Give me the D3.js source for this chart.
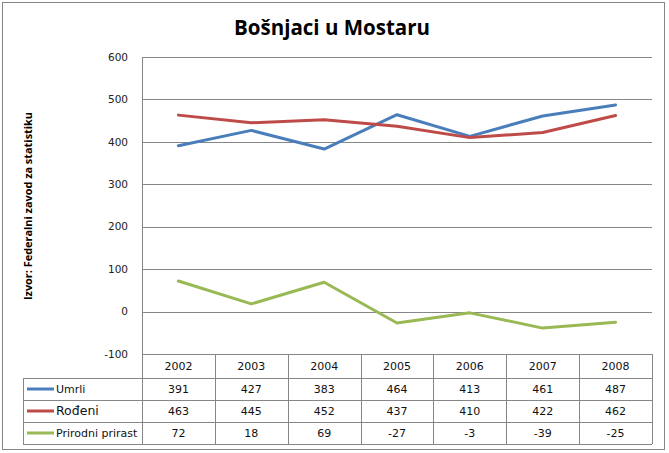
<!DOCTYPE html>
<html><head><meta charset="utf-8">
<script src="https://cdn.jsdelivr.net/npm/d3@7"></script>
<style>body{margin:0;background:#fff}svg{display:block}</style>
</head><body>
<script>
const years = ["2002","2003","2004","2005","2006","2007","2008"];
const umrli = [391,427,383,464,413,461,487];
const rodjeni = [463,445,452,437,410,422,462];
const prirast = [72,18,69,-27,-3,-39,-25];
const yTicks = [-100,0,100,200,300,400,500,600];
const seriesNames = ["Umrli","Rođeni","Prirodni prirast"];
const seriesColors = ["#4a7ebb","#be4b48","#98b954"];
const title = "Bošnjaci u Mostaru";
const yTitle = "Izvor: Federalni zavod za statistiku";

const W=669,H=453;
const svg=d3.select("body").append("svg").attr("width",W).attr("height",H);
const grey="#868686";
svg.append("rect").attr("x",2.5).attr("y",2.5).attr("width",662).attr("height",447).attr("fill","#fff").attr("stroke",grey);

const x=d3.scaleBand().domain(years).range([142,652]);
const y=d3.scaleLinear().domain([-100,600]).range([354,57]);
const font="DejaVu Sans, Verdana, sans-serif";

svg.append("text").attr("x",332).attr("y",35).attr("text-anchor","middle")
 .attr("font-family","Open Sans, sans-serif").attr("font-weight","bold").attr("font-size",20.5).text(title);

// gridlines
svg.append("g").selectAll("line").data(yTicks).join("line")
 .attr("x1",142).attr("x2",652).attr("y1",d=>Math.round(y(d))+0.5).attr("y2",d=>Math.round(y(d))+0.5)
 .attr("stroke",grey);
// y tick labels
svg.append("g").selectAll("text").data(yTicks).join("text")
 .attr("x",128).attr("y",d=>y(d)).attr("dy","0.35em").attr("text-anchor","end")
 .attr("font-family",font).attr("font-size",10.5).attr("fill","#222").text(d=>d);
// y title
svg.append("text").attr("transform","translate(32,206) rotate(-90)").attr("text-anchor","middle")
 .attr("font-family","Open Sans, sans-serif").attr("font-weight","bold").attr("font-size",10)
 .attr("textLength",188).attr("lengthAdjust","spacingAndGlyphs").text(yTitle);

// left axis line
svg.append("line").attr("x1",142.5).attr("x2",142.5).attr("y1",57).attr("y2",444).attr("stroke",grey);

// table
const rowTops=[354,378,400,422,444];
const tg=svg.append("g");
rowTops.slice(1).forEach(r=>{
 tg.append("line").attr("x1",23).attr("x2",652).attr("y1",r+0.5).attr("y2",r+0.5).attr("stroke",grey);
});
tg.append("line").attr("x1",23.5).attr("x2",23.5).attr("y1",378).attr("y2",444).attr("stroke",grey);
years.forEach(yr=>{
 const bx=Math.round(x(yr)+x.bandwidth())+0.5;
 tg.append("line").attr("x1",bx).attr("x2",bx).attr("y1",354).attr("y2",444).attr("stroke",grey);
});
tg.selectAll("text.yr").data(years).join("text").attr("class","yr")
 .attr("x",d=>x(d)+x.bandwidth()/2).attr("y",366).attr("dy","0.35em").attr("text-anchor","middle")
 .attr("font-family",font).attr("font-size",11).attr("fill","#111").text(d=>d);

const series=[umrli,rodjeni,prirast];
series.forEach((vals,i)=>{
 const cy=(rowTops[i+1]+rowTops[i+2])/2;
 tg.append("line").attr("x1",27).attr("x2",54).attr("y1",cy).attr("y2",cy).attr("stroke",seriesColors[i]).attr("stroke-width",3);
 tg.append("text").attr("x",56).attr("y",cy).attr("dy","0.35em")
  .attr("font-family",font).attr("font-size",i===1?12.5:11).attr("fill","#111").text(seriesNames[i]);
 tg.selectAll("text.v"+i).data(vals).join("text").attr("class","v"+i)
  .attr("x",(d,j)=>x(years[j])+x.bandwidth()/2).attr("y",cy).attr("dy","0.35em").attr("text-anchor","middle")
  .attr("font-family",font).attr("font-size",11).attr("fill","#111").text(d=>d);
});

// lines
const line=d3.line().x((d,j)=>x(years[j])+x.bandwidth()/2).y(d=>y(d));
series.forEach((vals,i)=>{
 svg.append("path").attr("d",line(vals)).attr("fill","none").attr("stroke",seriesColors[i])
  .attr("stroke-width",3).attr("stroke-linejoin","round").attr("stroke-linecap","round");
});
</script>
</body></html>
